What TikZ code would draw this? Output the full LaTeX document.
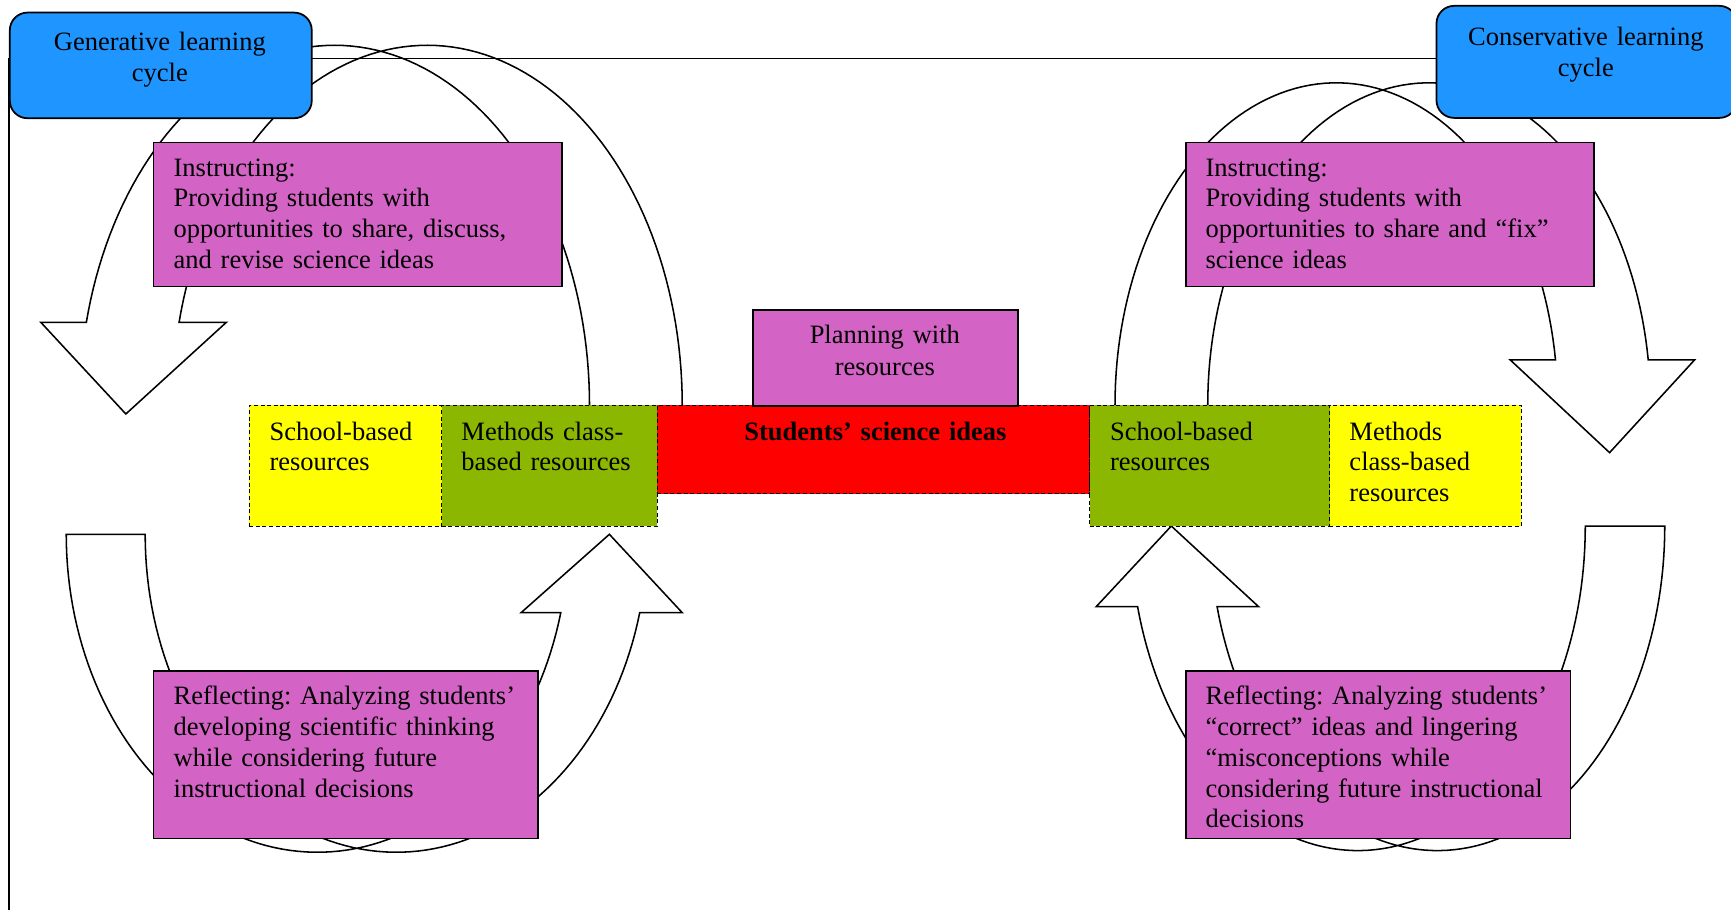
\documentclass[tikz,border=0pt]{standalone}
\usepackage{fontspec}
\setmainfont{Liberation Serif}
\frenchspacing
\pgfdeclarelayer{back}
\pgfsetlayers{back,main}
\definecolor{cycblue}{RGB}{31,150,255}
\definecolor{phasepink}{RGB}{211,99,197}
\definecolor{resgreen}{RGB}{139,183,0}
\definecolor{resyellow}{RGB}{255,255,0}
\definecolor{ideared}{RGB}{255,0,0}
\tikzset{
  cyclebox/.style={draw=black, line width=0.8pt, fill=cycblue, rounded corners=8pt, anchor=north west, inner sep=0pt},
  phasebox/.style={draw=black, line width=0.8pt, fill=phasepink, anchor=north west, inner sep=0pt},
  resbox/.style={draw=black, line width=0.5pt, dash pattern=on 1.8pt off 1.2pt, anchor=north west, inner sep=0pt},
  lbl/.style={inner sep=0pt, font=\fontsize{12pt}{13.9pt}\selectfont\frenchspacing, text width=#1, align=left, anchor=base west},
  clbl/.style={inner sep=0pt, font=\fontsize{12pt}{14.4pt}\selectfont\frenchspacing, text width=#1, align=center, anchor=base},
  band/.style={draw=black, line width=0.7pt, line join=miter},
  frame/.style={draw=black, line width=0.8pt},
}
\begin{document}
\begin{tikzpicture}[x=0.5pt, y=-0.5pt]
\useasboundingbox (0,0) rectangle (1568,824);

% resource row
\node[resbox, fill=resyellow, minimum width=87.15pt, minimum height=54.65pt] (schoolL) at (225.2,366.8) {};
\node[resbox, fill=resgreen, minimum width=97.65pt, minimum height=54.65pt] (methodsL) at (399.5,366.8) {};
\node[resbox, fill=ideared, minimum width=195.85pt, minimum height=40pt] (ideas) at (594.8,366.8) {};
\node[resbox, fill=resgreen, minimum width=108.65pt, minimum height=54.65pt] (schoolR) at (986.5,366.8) {};
\node[resbox, fill=resyellow, minimum width=86.9pt, minimum height=54.65pt] (methodsR) at (1203.8,366.8) {};

% cycle labels and phase boxes
\node[cyclebox, minimum width=136.75pt, minimum height=47.85pt] (gen) at (8.1,10.6) {};
\node[cyclebox, minimum width=136.1pt, minimum height=50.75pt] (cons) at (1300.4,4.5) {};
\node[phasebox, minimum width=184.95pt, minimum height=65.25pt] (instrL) at (138.3,128.3) {};
\node[phasebox, minimum width=184.9pt, minimum height=65.25pt] (instrR) at (1073.6,128.3) {};
\node[phasebox, minimum width=120pt, minimum height=43.3pt] (plan) at (681.5,280.2) {};
\node[phasebox, minimum width=174.05pt, minimum height=75.9pt] (reflL) at (138.3,606.9) {};
\node[phasebox, minimum width=174.05pt, minimum height=75.9pt] (reflR) at (1073.6,606.9) {};

% texts
\node[clbl=130pt] (genT) at (144.8,45.3) {Generative learning\\cycle};
\node[clbl=130pt] (consT) at (1436.5,40.8) {Conservative learning\\cycle};
\node[lbl=170pt] (instrLT) at (156.9,159.5) {Instructing:\\Providing students with\\opportunities to share, discuss,\\and revise science ideas};
\node[lbl=170pt] (instrRT) at (1091.7,159.5) {Instructing:\\Providing students with\\opportunities to share and “fix”\\science ideas};
\node[clbl=115pt] (planT) at (801.5,311) {Planning with\\resources};
\node[clbl=190pt] (ideasT) at (793,399.2) {\textbf{Students’ science ideas}};
\node[lbl=85pt] (schoolLT) at (243.8,398.8) {School-based\\resources};
\node[lbl=95pt] (methodsLT) at (417.6,398.8) {Methods class-\\based resources};
\node[lbl=105pt] (schoolRT) at (1005.1,398.8) {School-based\\resources};
\node[lbl=85pt] (methodsRT) at (1222,398.8) {Methods\\class-based\\resources};
\node[lbl=170pt] (reflLT) at (156.9,638.6) {Reflecting: Analyzing students’\\developing scientific thinking\\while considering future\\instructional decisions};
\node[lbl=170pt] (reflRT) at (1091.7,638.6) {Reflecting: Analyzing students’\\“correct” ideas and lingering\\“misconceptions while\\considering future instructional\\decisions};

\begin{pgfonlayer}{back}
  % outer connector from the conservative cycle round to the generative one
  \coordinate (frameY) at (0,53);
  \coordinate (bot) at (0,830);
  \draw[frame] (cons.west |- frameY) -- (gen.west |- frameY) -- (gen.west |- bot);

  % generative cycle: curved block arrow down on the left
  \draw[band] plot[variable=\t, domain=0:166.7, samples=90] ({303+231*cos(\t)},{367-326*sin(\t)})
     -- (37,292) -- (114,375) -- (205,292)
     -- plot[variable=\t, domain=166.7:0, samples=90] ({387+231*cos(\t)},{367-326*sin(\t)});
  % generative cycle: curved block arrow up on the right
  \draw[band] plot[variable=\t, domain=180:14.27, samples=90] ({287.5+227.5*cos(\t)},{484+288*sin(\t)})
     -- (472,555) -- (552,484) -- (618,555)
     -- plot[variable=\t, domain=14.27:180, samples=90] ({359+227.5*cos(\t)},{484+288*sin(\t)}) -- cycle;

  % conservative cycle: curved block arrow down on the right
  \draw[band] plot[variable=\t, domain=180:8.07, samples=90] ({1210.5+200.5*cos(\t)},{367-292*sin(\t)})
     -- (1368,326) -- (1458,410) -- (1535,326)
     -- plot[variable=\t, domain=8.07:180, samples=90] ({1294.5+200.5*cos(\t)},{367-292*sin(\t)});
  % conservative cycle: curved block arrow up on the left
  \draw[band] plot[variable=\t, domain=0:165.62, samples=90] ({1230+206*cos(\t)},{476.5+294*sin(\t)})
     -- (993,549.5) -- (1061,476.5) -- (1140,549.5)
     -- plot[variable=\t, domain=165.62:0, samples=90] ({1302+206*cos(\t)},{476.5+294*sin(\t)}) -- cycle;
\end{pgfonlayer}
\end{tikzpicture}
\end{document}
